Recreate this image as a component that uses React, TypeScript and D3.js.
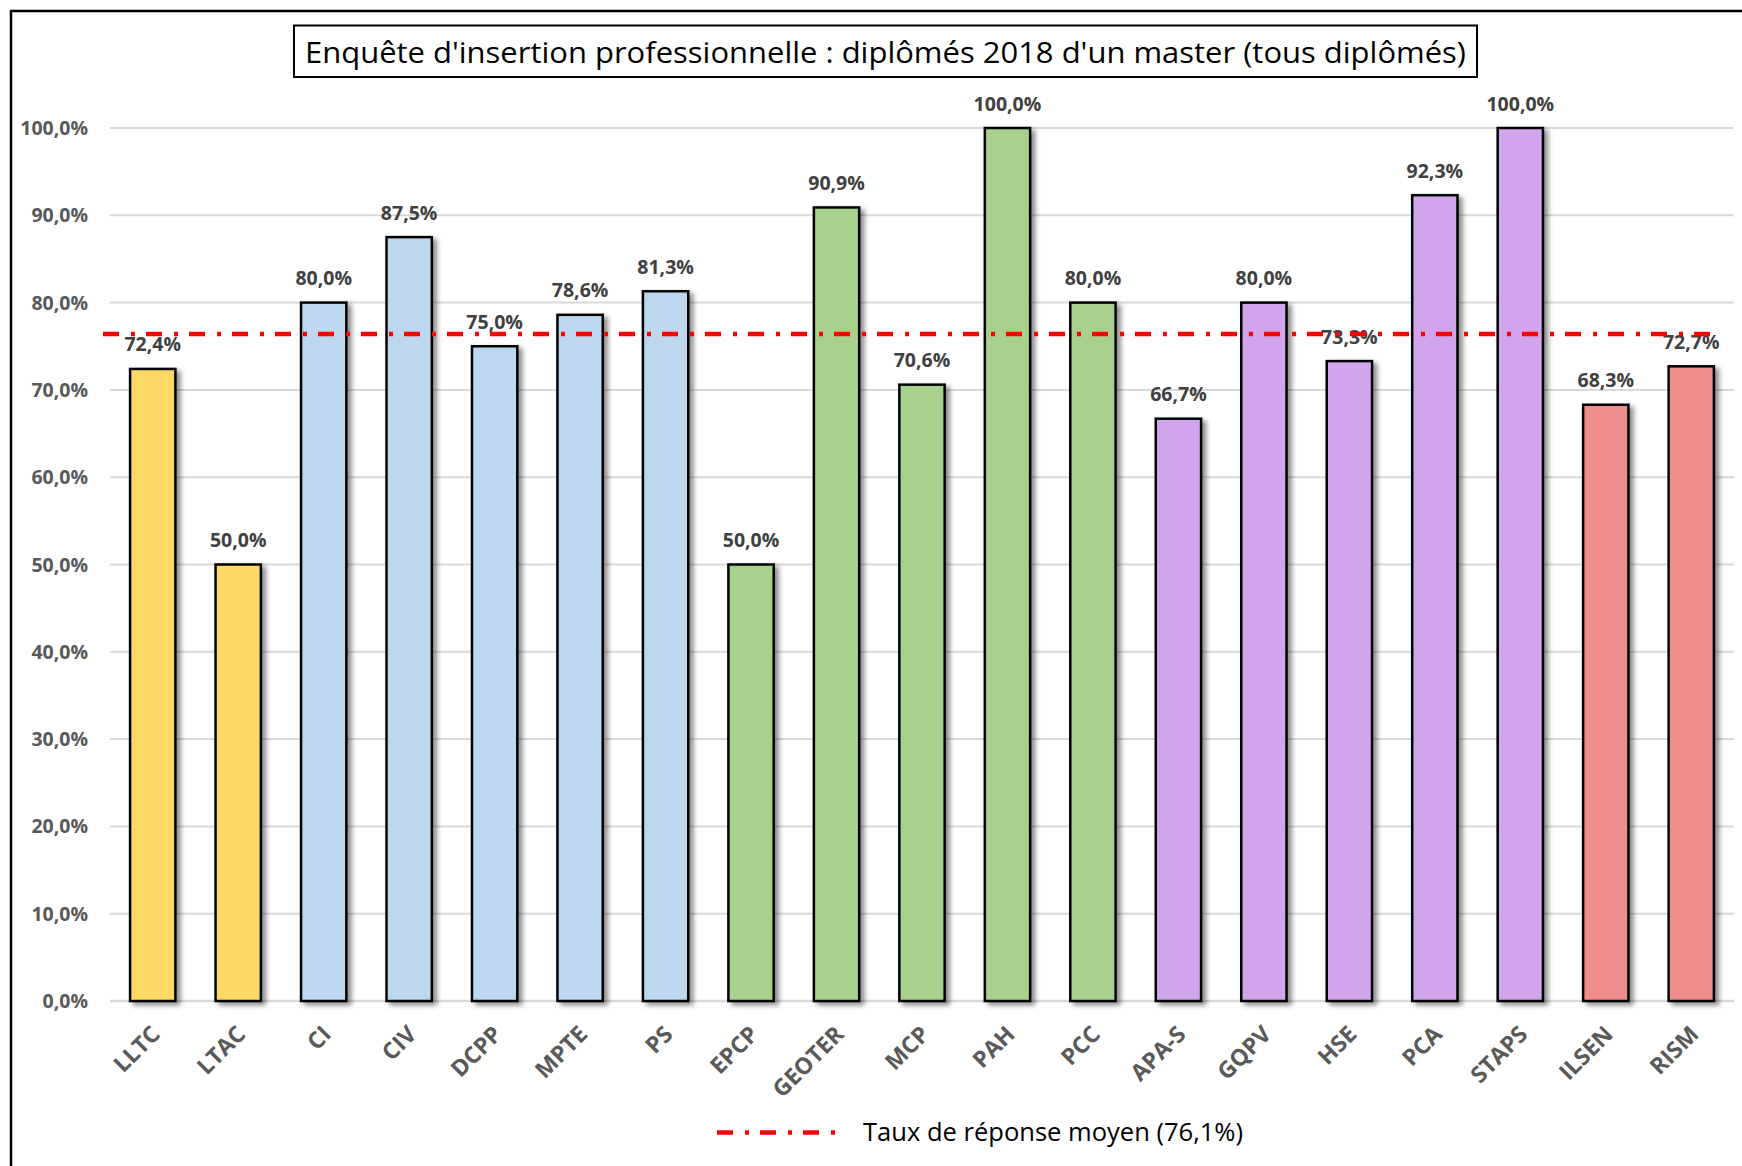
import React from 'react';
import * as d3 from 'd3';

// categories and rates (%)
const formations = ['LLTC', 'LTAC', 'CI', 'CIV', 'DCPP', 'MPTE', 'PS', 'EPCP', 'GEOTER', 'MCP', 'PAH', 'PCC', 'APA-S', 'GQPV', 'HSE', 'PCA', 'STAPS', 'ILSEN', 'RISM'];
const taux = [72.4, 50.0, 80.0, 87.5, 75.0, 78.6, 81.3, 50.0, 90.9, 70.6, 100.0, 80.0, 66.7, 80.0, 73.3, 92.3, 100.0, 68.3, 72.7];
const groupes = ['jaune', 'jaune', 'bleu', 'bleu', 'bleu', 'bleu', 'bleu', 'vert', 'vert', 'vert', 'vert', 'vert', 'violet', 'violet', 'violet', 'violet', 'violet', 'rouge', 'rouge'];
const yTicks = [0, 10, 20, 30, 40, 50, 60, 70, 80, 90, 100];
const moyenne = 76.4; // where the dashed line sits in the picture
const legendLabel = 'Taux de réponse moyen (76,1%)';
const title = "Enquête d'insertion professionnelle : diplômés 2018 d'un master (tous diplômés)";

const colors = d3.scaleOrdinal<string, string>()
  .domain(['jaune', 'bleu', 'vert', 'violet', 'rouge'])
  .range(['#FFD966', '#BDD7EE', '#A9D18E', '#D0A5EC', '#EF8C8C']);

const fmt = (v: number) => v.toFixed(1).replace('.', ',') + '%';
const font = '"Open Sans", "Noto Sans", sans-serif';

export default function App() {
  const width = 1742;
  const height = 1166;
  const left = 110, right = 1734, top = 128, bottom = 1001;

  const x = d3.scaleBand<string>()
    .domain(formations)
    .range([left, right])
    .paddingInner(0.47)
    .paddingOuter(0.235);

  const y = d3.scaleLinear().domain([0, 100]).range([bottom, top]);

  const dash = '16 12 4 11';

  return (
    <svg width={width} height={height} style={{ position: 'absolute', left: 0, top: 0, background: '#fff' }}>
      <defs>
        <filter id="shadow" x="-20%" y="-5%" width="150%" height="115%">
          <feDropShadow dx="4" dy="3" stdDeviation="2.5" floodColor="#000" floodOpacity="0.45" />
        </filter>
      </defs>

      {/* outer frame, cropped at right and bottom */}
      <rect x={11} y={11} width={1800} height={1300} fill="none" stroke="#000" strokeWidth={2.5} />

      {/* title */}
      <rect x={294} y={25.5} width={1183} height={51.5} fill="#fff" stroke="#000" strokeWidth={2} />
      <text x={305} y={63} fontFamily={font} fontSize={30} fill="#000"
        textLength={1161} lengthAdjust="spacingAndGlyphs">{title}</text>

      {/* grid */}
      {yTicks.map(t => (
        <g key={t}>
          <line x1={left} x2={right} y1={y(t)} y2={y(t)} stroke="#D9D9D9" strokeWidth={t === 0 ? 2.5 : 2} />
          <text x={88} y={y(t)} dy="0.36em" textAnchor="end" fontFamily={font} fontWeight={700}
            fontSize={19.5} fill="#595959">{fmt(t)}</text>
        </g>
      ))}

      {/* bars */}
      {formations.map((f, i) => (
        <rect key={f} x={x(f)} y={y(taux[i])} width={x.bandwidth()} height={y(0) - y(taux[i])}
          fill={colors(groupes[i])} stroke="#000" strokeWidth={2.5} filter="url(#shadow)" />
      ))}

      {/* data labels */}
      {formations.map((f, i) => (
        <text key={f} x={(x(f) as number) + x.bandwidth() / 2} y={y(taux[i]) - 17.5} textAnchor="middle"
          fontFamily={font} fontWeight={700} fontSize={19.5} fill="#404040">{fmt(taux[i])}</text>
      ))}

      {/* x labels */}
      {formations.map(f => {
        const cx = (x(f) as number) + x.bandwidth() / 2;
        return (
          <text key={f} transform={`translate(${cx + 3},${1030}) rotate(-45)`} dy="0.35em" textAnchor="end"
            fontFamily={font} fontWeight={700} fontSize={23} fill="#595959">{f}</text>
        );
      })}

      {/* mean line */}
      <line x1={left - 7} x2={right - 14} y1={y(moyenne)} y2={y(moyenne)} stroke="#FF0000" strokeWidth={4.5}
        strokeDasharray={dash} />

      {/* legend */}
      <line x1={717} x2={838} y1={1132.5} y2={1132.5} stroke="#FF0000" strokeWidth={4.5} strokeDasharray={dash} />
      <text x={863} y={1141} fontFamily={font} fontSize={25} fill="#000"
        textLength={380} lengthAdjust="spacingAndGlyphs">{legendLabel}</text>
    </svg>
  );
}
